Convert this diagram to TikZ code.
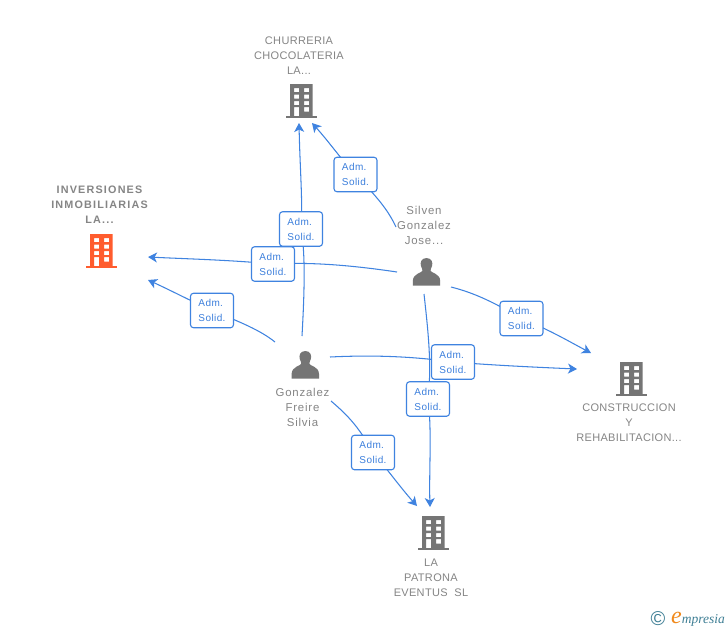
\documentclass[tikz,border=0pt]{standalone}
\usepackage{fontspec}
\setmainfont{Liberation Sans}
\newfontfamily\labelfont[LetterSpace=3]{Liberation Sans}
\newfontfamily\personfont[LetterSpace=7]{Liberation Sans}
\newfontfamily\smallfont[LetterSpace=4]{Liberation Sans}
\newfontfamily\boldlabelfont[LetterSpace=11]{Liberation Sans Bold}
\newfontfamily\logofont{Liberation Serif Italic}
\usetikzlibrary{arrows.meta,calc}
\definecolor{linkblue}{HTML}{3F83E0}
\definecolor{labelblue}{HTML}{3C7FDC}
\definecolor{icongray}{HTML}{757575}
\definecolor{namegray}{HTML}{858585}
\definecolor{accent}{HTML}{FF5C2E}
\definecolor{logoteal}{HTML}{3F7F95}
\definecolor{logoorange}{HTML}{F08A1D}
\tikzset{
  x=1pt,y=-1pt,
  conn/.style={draw=linkblue,line width=1.05pt},
  arrowconn/.style={conn,-{Stealth[length=9pt,width=10pt,inset=2.5pt]}},
  solid label/.style={draw=linkblue,line width=1.1pt,fill=white,rounded corners=3pt,
    minimum width=43pt,minimum height=34.5pt,inner sep=0pt,align=left,text=labelblue,
    font=\smallfont\fontsize{10pt}{15pt}\selectfont},
  name text/.style={text=namegray,align=center,inner sep=0pt,font=\labelfont\fontsize{11pt}{15pt}\selectfont},
  person name/.style={name text,font=\personfont\fontsize{11.4pt}{15pt}\selectfont},
  bold name/.style={name text,font=\boldlabelfont\fontsize{10.8pt}{15pt}\selectfont},
  icon box/.style={minimum width=31pt,minimum height=34pt,inner sep=0pt},
}
\newcommand{\buildingicon}[2]{%
  \fill[#2,even odd rule,shift={(#1)}]
    (-11,-17) rectangle (11.5,15)
    (-7,-13) rectangle (-2,-9) (3,-13) rectangle (8,-9)
    (-7,-6.5) rectangle (-2,-2.5) (3,-6.5) rectangle (8,-2.5)
    (-7,0) rectangle (-2,4) (3,0) rectangle (8,4)
    (-7,6) rectangle (-2,15) (3,6) rectangle (8,10.5);
  \fill[#2,shift={(#1)}] (-15.5,14.5) rectangle (16,17);
}
\newcommand{\personicon}[1]{%
  \fill[icongray,shift={(#1)}]
    (0,-14) .. controls (-5.5,-14) and (-6.5,-9) .. (-5.5,-6)
    .. controls (-5,-4) and (-4,-3) .. (-4,-1.5)
    .. controls (-4,1) and (-13.5,1) .. (-13.7,9) -- (-13.7,13.5) -- (13.7,13.5) -- (13.7,9)
    .. controls (13.5,1) and (4,1) .. (4,-1.5)
    .. controls (4,-3) and (5,-4) .. (5.5,-6)
    .. controls (6.5,-9) and (5.5,-14) .. (0,-14) -- cycle;
}
\begin{document}
\begin{tikzpicture}
\useasboundingbox (0,0) rectangle (728,630);
\fill[white] (0,0) rectangle (728,630);

% entity nodes (icons)
\node[icon box] (inversiones) at (101,251) {};
\node[icon box] (churreria) at (301,101) {};
\node[icon box] (construccion) at (631,379) {};
\node[icon box] (patrona) at (433,533) {};
\node[icon box] (silven) at (426.5,272) {};
\node[icon box] (gonzalez) at (305.3,365) {};
\buildingicon{inversiones}{accent}
\buildingicon{churreria}{icongray}
\buildingicon{construccion}{icongray}
\buildingicon{patrona}{icongray}
\personicon{silven}
\personicon{gonzalez}

% texts
\node[bold name] (tinv) at (99.5,205) {INVERSIONES\\INMOBILIARIAS\\LA...};
\node[name text] (tchu) at (299,55.5) {CHURRERIA\\CHOCOLATERIA\\LA...};
\node[name text] (tcon) at (629,423) {CONSTRUCCION\\Y\\REHABILITACION...};
\node[name text] (tpat) at (431,577.5) {LA\\PATRONA\\EVENTUS\ \ SL};
\node[person name] (tsil) at (424,225.5) {Silven\\Gonzalez\\Jose...};
\node[person name] (tgon) at (302.5,407) {Gonzalez\\Freire\\Silvia};

% label positions
\coordinate (la) at (301,229);
\coordinate (lb) at (355.5,174.5);
\coordinate (lc) at (273,264);
\coordinate (ld) at (212,310.5);
\coordinate (le) at (521.5,318.5);
\coordinate (lf) at (453,362);
\coordinate (lg) at (428,399);
\coordinate (lh) at (373,452.5);

% connector ends
\coordinate (gonzalezN) at (302,336);
\coordinate (gonzalezNW) at (275,342);
\coordinate (gonzalezE) at (330,357);
\coordinate (gonzalezSE) at (331,401);
\coordinate (silvenNW) at (396,227);
\coordinate (silvenW) at (397,272);
\coordinate (silvenE) at (451,287);
\coordinate (silvenS) at (424,294);
\coordinate (tipChuA) at (299,123);
\coordinate (tipChuB) at (312,123);
\coordinate (tipInvA) at (148,257);
\coordinate (tipInvB) at (148,280);
\coordinate (tipConA) at (591,353);
\coordinate (tipConB) at (577,369);
\coordinate (tipPatA) at (430,507);
\coordinate (tipPatB) at (417,506);

% connectors, person to label
\draw[conn] (gonzalezN) .. controls (304,300) and (306,255) .. (la);
\draw[conn] (silvenNW) .. controls (388,210) and (378,198) .. (lb);
\draw[conn] (silvenW) .. controls (350,265) and (310,262) .. (lc);
\draw[conn] (gonzalezNW) .. controls (260,330) and (240,322) .. (ld);
\draw[conn] (silvenE) .. controls (475,293) and (495,303) .. (le);
\draw[conn] (gonzalezE) .. controls (370,355) and (410,356) .. (lf);
\draw[conn] (silvenS) .. controls (428,330) and (432,365) .. (lg);
\draw[conn] (gonzalezSE) .. controls (345,413) and (358,425) .. (lh);

% connectors, label to target
\draw[arrowconn] (la) .. controls (303,205) and (300,170) .. (tipChuA);
\draw[arrowconn] (lb) .. controls (340,158) and (330,143) .. (tipChuB);
\draw[arrowconn] (lc) .. controls (230,260) and (190,259) .. (tipInvA);
\draw[arrowconn] (ld) .. controls (195,303) and (170,290) .. (tipInvB);
\draw[arrowconn] (le) .. controls (550,330) and (570,342) .. (tipConA);
\draw[arrowconn] (lf) .. controls (490,365) and (530,367) .. (tipConB);
\draw[arrowconn] (lg) .. controls (432,430) and (429,470) .. (tipPatA);
\draw[arrowconn] (lh) .. controls (388,470) and (400,487) .. (tipPatB);

% relation labels
\node[solid label] (labelA) at (la) {Adm.\\Solid.};
\node[solid label] (labelB) at (lb) {Adm.\\Solid.};
\node[solid label] (labelC) at (lc) {Adm.\\Solid.};
\node[solid label] (labelD) at (ld) {Adm.\\Solid.};
\node[solid label] (labelE) at (le) {Adm.\\Solid.};
\node[solid label] (labelG) at (lg) {Adm.\\Solid.};
\node[solid label] (labelF) at (lf) {Adm.\\Solid.};
\node[solid label] (labelH) at (lh) {Adm.\\Solid.};

% logo
\node[text=logoteal,inner sep=0pt,font=\fontsize{20pt}{20pt}\selectfont] (copy) at (658,618.5) {©};
\node[anchor=base west,inner sep=0pt,font=\logofont\fontsize{13.5pt}{14pt}\selectfont] (logo) at (671,623.5)
  {\textcolor{logoorange}{\fontsize{24pt}{24pt}\selectfont e}\textcolor{logoteal}{mpresia}};
\end{tikzpicture}
\end{document}
